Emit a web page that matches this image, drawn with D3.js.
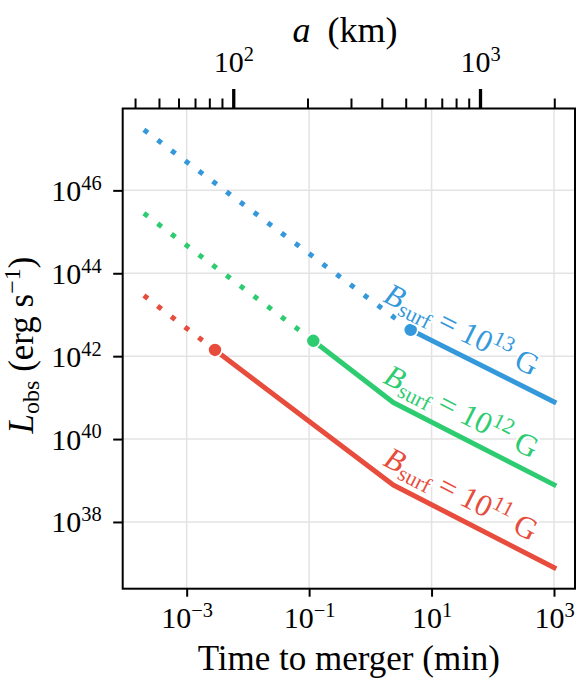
<!DOCTYPE html>
<html>
<head>
<meta charset="utf-8">
<script src="https://cdn.jsdelivr.net/npm/d3@7"></script>
<style>
  body { margin: 0; background: #fff; }
  svg { display: block; }
</style>
</head>
<body>
<div id="chart"></div>
<script>
// time to merger (min) vs observed luminosity (erg/s), one curve per surface field
const fieldExps = [13, 12, 11];
const colors = ['#3498db', '#2ecc71', '#e74c3c'];

const dotT = [[2e-4, 4.56], [2e-4, 0.117], [2e-4, 2.9e-3]];
const dotL = [[2.9e47, 4.3e42], [2.8e45, 2.35e42], [2.9e43, 1.41e42]];
const solidT = [[4.56, 1000], [0.117, 2.37, 1000], [2.9e-3, 2.37, 1000]];
const solidL = [[4.3e42, 7.9e40], [2.35e42, 7.6e40, 7.9e38], [1.41e42, 7.8e38, 7.9e36]];

const xTicks = [1e-3, 1e-1, 1e1, 1e3];
const yTicks = [1e38, 1e40, 1e42, 1e44, 1e46];
const aMajor = [100, 1000];
const aMinor = [40, 50, 60, 70, 80, 90, 200, 300, 400, 500, 600, 700, 800, 900, 2000];

const W = 583, H = 683;
const L = 122.7, R = 575, T = 108.5, B = 588.7;
const FONT = '"Liberation Serif", "DejaVu Serif", serif';

const svg = d3.select('#chart').append('svg').attr('width', W).attr('height', H)
  .attr('font-family', FONT);

const x = d3.scaleLog().domain([Math.pow(10, -4.045), Math.pow(10, 3.343)]).range([L, R]);
const y = d3.scaleLog().domain([Math.pow(10, 36.39), Math.pow(10, 47.975)]).range([B, T]);
// orbital separation a (km): t ∝ a^4, a = 100 km sits at x = 233.3
const xa = d3.scaleLog().domain([Math.pow(10, 1.552), Math.pow(10, 3.385)]).range([L, R]);

// grid
const grid = svg.append('g').attr('stroke', '#e3e3e3').attr('stroke-width', 1.5);
xTicks.forEach(t => grid.append('line').attr('x1', x(t)).attr('x2', x(t)).attr('y1', T).attr('y2', B));
yTicks.forEach(v => grid.append('line').attr('y1', y(v)).attr('y2', y(v)).attr('x1', L).attr('x2', R));

function sup(sel, d, size) {
  const e = Math.round(Math.log10(d));
  sel.text(null);
  sel.append('tspan').text('10');
  sel.append('tspan').attr('dy', -size * 0.37).attr('font-size', size * 0.68)
    .text(String(e).replace('-', '\u2212'));
}

// bottom axis
const gx = svg.append('g').attr('transform', `translate(0,${B})`)
  .call(d3.axisBottom(x).tickValues(xTicks).tickSize(8));
gx.select('.domain').remove();
gx.selectAll('.tick line').attr('stroke', '#000').attr('stroke-width', 2);
gx.selectAll('.tick text').attr('y', 39.5).attr('dy', 0).attr('fill', '#000')
  .attr('font-size', 30).attr('font-family', FONT).attr('text-anchor', 'middle')
  .each(function(d) { sup(d3.select(this), d, 30); });

// left axis
const gy = svg.append('g').attr('transform', `translate(${L},0)`)
  .call(d3.axisLeft(y).tickValues(yTicks).tickSize(9.5));
gy.select('.domain').remove();
gy.selectAll('.tick line').attr('stroke', '#000').attr('stroke-width', 2);
gy.selectAll('.tick text').attr('x', -21).attr('y', 10).attr('dy', 0).attr('fill', '#000')
  .attr('font-size', 30).attr('font-family', FONT).attr('text-anchor', 'end')
  .each(function(d) { sup(d3.select(this), d, 30); });

// top axis (a in km)
const gtMinor = svg.append('g').attr('transform', `translate(0,${T})`)
  .call(d3.axisTop(xa).tickValues(aMinor).tickSize(10).tickFormat(''));
gtMinor.select('.domain').remove();
gtMinor.selectAll('.tick line').attr('stroke', '#000').attr('stroke-width', 2);

const gt = svg.append('g').attr('transform', `translate(0,${T})`)
  .call(d3.axisTop(xa).tickValues(aMajor).tickSize(19.5));
gt.select('.domain').remove();
gt.selectAll('.tick line').attr('stroke', '#000').attr('stroke-width', 3.3);
gt.selectAll('.tick text').attr('y', -36.5).attr('dy', 0).attr('fill', '#000')
  .attr('font-size', 30).attr('font-family', FONT).attr('text-anchor', 'middle')
  .each(function(d) { sup(d3.select(this), d, 30); });

// curves
const line = d3.line().x(d => x(d[0])).y(d => y(d[1]));
const plot = svg.append('g');
fieldExps.forEach((e, i) => {
  const dots = dotT[i].map((t, j) => [t, dotL[i][j]]);
  const solid = solidT[i].map((t, j) => [t, solidL[i][j]]);
  plot.append('path').attr('d', line(dots)).attr('fill', 'none').attr('stroke', colors[i])
    .attr('stroke-width', 5).attr('stroke-dasharray', '5 12.2').attr('stroke-linecap', 'butt');
  plot.append('path').attr('d', line(solid)).attr('fill', 'none').attr('stroke', colors[i])
    .attr('stroke-width', 5).attr('stroke-linecap', 'square').attr('stroke-linejoin', 'round');
  plot.append('circle').attr('cx', x(solid[0][0])).attr('cy', y(solid[0][1])).attr('r', 7)
    .attr('fill', colors[i]).attr('stroke', '#fff').attr('stroke-width', 1.6);

  // label along the last segment
  const p0 = solid[solid.length - 2], p1 = solid[solid.length - 1];
  const x0 = x(p0[0]), y0 = y(p0[1]), x1 = x(p1[0]), y1 = y(p1[1]);
  const slope = (y1 - y0) / (x1 - x0);
  const lx = 382, ly = y0 + (lx - x0) * slope - 14.5;
  const ang = Math.atan(slope) * 180 / Math.PI;
  const fs = 31;
  const txt = plot.append('text').attr('transform', `translate(${lx},${ly}) rotate(${ang})`)
    .attr('fill', colors[i]).attr('font-size', fs)
    .attr('stroke', '#fff').attr('stroke-width', 4).attr('stroke-linejoin', 'round')
    .attr('paint-order', 'stroke');
  txt.append('tspan').attr('font-style', 'italic').text('B');
  txt.append('tspan').attr('dy', 5.5).attr('font-size', fs * 0.7).text('surf');
  txt.append('tspan').attr('dy', -5.5).text(' = 10');
  txt.append('tspan').attr('dy', -11.5).attr('font-size', fs * 0.7).text(e);
  txt.append('tspan').attr('dy', 11.5).text(' G');
});

// frame
svg.append('rect').attr('x', L).attr('y', T).attr('width', R - L).attr('height', B - T)
  .attr('fill', 'none').attr('stroke', '#000').attr('stroke-width', 2);

// axis titles
svg.append('text').attr('x', (L + R) / 2).attr('y', 670).attr('text-anchor', 'middle')
  .attr('font-size', 35).text('Time to merger (min)');

const topTitle = svg.append('text').attr('x', 345).attr('y', 42).attr('text-anchor', 'middle')
  .attr('font-size', 36).attr('word-spacing', 8);
topTitle.append('tspan').attr('font-style', 'italic').text('a');
topTitle.append('tspan').text(' (km)');

const yl = svg.append('text').attr('transform', 'translate(33.3,345) rotate(-90)')
  .attr('text-anchor', 'middle').attr('font-size', 35);
yl.append('tspan').attr('font-style', 'italic').text('L');
yl.append('tspan').attr('dy', 6).attr('font-size', 24).text('obs');
yl.append('tspan').attr('dy', -6).text(' (erg s');
yl.append('tspan').attr('dy', -13).attr('font-size', 24).text('\u22121');
yl.append('tspan').attr('dy', 13).text(')');
</script>
</body>
</html>
